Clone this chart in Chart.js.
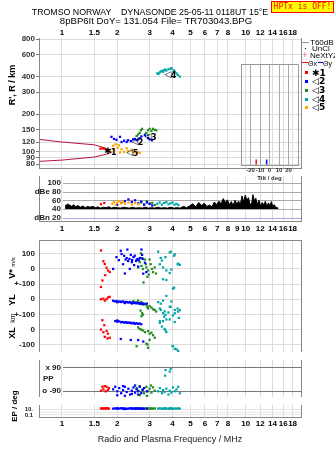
<!DOCTYPE html>
<html>
<head>
<meta charset="utf-8">
<script src="https://cdn.jsdelivr.net/npm/chart.js@4.4.0/dist/chart.umd.min.js"></script>
<style>
  html, body { margin: 0; padding: 0; background: #fff; }
  #wrap { position: relative; width: 335px; height: 451px; overflow: hidden; font-family: "Liberation Sans", Arial, sans-serif; }
  canvas { position: absolute; left: 0; }
  .c { position: absolute; white-space: pre; line-height: 1; transform: translate(-50%, -50%); }
  .l { position: absolute; white-space: pre; line-height: 1; transform: translate(0, -50%); }
  .r { position: absolute; white-space: pre; line-height: 1; transform: translate(-50%, -50%) rotate(-90deg); font-weight: bold; }
  .sq { position: absolute; width: 3px; height: 3px; }
</style>
</head>
<body>
<div id="wrap">
  <canvas id="c1" width="335" height="173" style="top:0"></canvas>
  <canvas id="c2" width="335" height="63" style="top:172px"></canvas>
  <canvas id="c3" width="335" height="120" style="top:236px"></canvas>
  <canvas id="c4" width="335" height="45" style="top:356px"></canvas>
  <canvas id="c5" width="335" height="50" style="top:401px"></canvas>
  <canvas id="c6" width="75" height="124" style="top:58px;left:230px"></canvas>

  <div class="c" style="left:150px;top:12px;font-size:8.8px">TROMSO NORWAY    DYNASONDE 25-05-11 0118UT 15°E</div>
  <div class="c" style="left:156px;top:21px;font-size:9.6px">8pBP6It DoY= 131.054 File= TR703043.BPG</div>
  <div style="position:absolute;left:271px;top:1px;width:61px;height:10px;border:1px solid #f00;background:#ff0;color:#f00;font:8px 'DejaVu Sans Mono',monospace;line-height:10px;text-align:center;white-space:nowrap">HPTx is OFF!</div>

  <div style="position:absolute;left:302px;top:42px;width:7px;height:1px;background:#999"></div>
  <div class="l" style="left:310px;top:42.5px;font-size:8px">T60dB</div>
  <div style="position:absolute;left:305px;top:48px;width:1px;height:1px;background:#000"></div>
  <div class="l" style="left:312px;top:49px;font-size:8px">UnCl</div>
  <div class="c" style="left:305px;top:55px;font-size:9px;color:#e05080">+</div>
  <div class="l" style="left:310px;top:55.5px;font-size:8px">NeXtYZ</div>
  <div style="position:absolute;left:302px;top:62px;width:6px;height:1px;background:#f00"></div>
  <div class="l" style="left:308px;top:62.5px;font-size:7px">Θx</div>
  <div style="position:absolute;left:318px;top:62px;width:5px;height:1px;background:#00f"></div>
  <div class="l" style="left:323px;top:62.5px;font-size:7px">Θy</div>
  <div class="sq" style="left:305px;top:71px;background:#f00"></div>
  <div class="sq" style="left:305px;top:80px;background:#00f"></div>
  <div class="sq" style="left:305px;top:89px;background:#228b22"></div>
  <div class="sq" style="left:305px;top:98px;background:#00a6a6"></div>
  <div class="sq" style="left:305px;top:106px;background:#ffa500"></div>
  <div class="l" style="left:312px;top:72.5px;font:bold 9px 'DejaVu Sans'">✱1</div>
  <div class="l" style="left:312px;top:81px;font:bold 9px 'DejaVu Sans'">◁2</div>
  <div class="l" style="left:312px;top:90px;font:bold 9px 'DejaVu Sans'">◁3</div>
  <div class="l" style="left:312px;top:98.5px;font:bold 9px 'DejaVu Sans'">◁4</div>
  <div class="l" style="left:312px;top:107px;font:bold 9px 'DejaVu Sans'">◁5</div>

  <div class="r" style="left:12px;top:85px;font-size:9px">R', R / km</div>
  <div class="r" style="left:12px;top:268px;font-size:9px">V* <span style="font-size:6px;font-weight:normal">m/s</span></div>
  <div class="r" style="left:12px;top:300px;font-size:9px">YL</div>
  <div class="r" style="left:12px;top:318px;font-size:7px;font-weight:normal">km</div>
  <div class="r" style="left:12px;top:333px;font-size:9px">XL</div>
  <div class="r" style="left:15px;top:406px;font-size:8px">EP / deg</div>
</div>
<script>
// frequency axis (MHz)
const freqTicks = [1, 1.5, 2, 3, 4, 5, 6, 7, 8, 10, 12, 14, 16, 18];
const freqTicksDb = [1, 1.5, 2, 3, 4, 5, 6, 7, 8, 9, 10, 12, 14, 16, 18];
const heightTicks = [80, 90, 100, 120, 150, 200, 300, 400, 600, 800];

// ionogram traces: frequency (MHz) and virtual height (km)
const redF = [1.62, 1.66, 1.70, 1.74, 1.77];
const redH = [106, 107, 106, 104, 103];
const orangeF = [1.86, 1.90, 1.92, 1.96, 2.01, 2.04, 2.07, 2.11, 2.18, 2.25, 2.29, 2.39, 2.44, 2.55, 2.60, 2.65];
const orangeH = [100, 112, 104, 115, 108, 113, 99, 105, 100, 107, 102, 104, 99, 98, 100, 98];
const blueF = [1.86, 1.92, 1.98, 2.07, 2.11, 2.18, 2.25, 2.29, 2.37, 2.44, 2.49, 2.55, 2.60, 2.65, 2.71, 2.83, 2.94, 3.00, 3.09];
const blueH = [132, 127, 125, 132, 120, 123, 120, 124, 122, 126, 127, 124, 126, 129, 133, 136, 129, 126, 124];
const greenF = [2.55, 2.60, 2.65, 2.69, 2.73, 2.83, 2.88, 2.94, 3.00, 3.07, 3.13, 3.20, 3.26, 2.94];
const greenH = [134, 138, 142, 149, 153, 138, 142, 149, 153, 147, 153, 150, 149, 136];
const tealF = [3.30, 3.35, 3.40, 3.45, 3.50, 3.55, 3.60, 3.65, 3.70, 3.80, 3.90, 3.95, 4.05, 4.11, 4.20, 4.27, 4.38];
const tealH = [425, 420, 432, 440, 445, 438, 450, 455, 448, 458, 462, 468, 450, 440, 425, 413, 400];
// model curves
const modelUpF = [0.75, 1.0, 1.5, 1.7, 1.8];
const modelUpH = [126, 120, 114, 108, 104];
const modelLoF = [0.75, 1.0, 1.5, 1.75, 1.86];
const modelLoH = [84, 86, 91, 96, 99];
// trace markers
const markF = [1.78, 2.49, 2.94, 3.77, 2.34];
const markH = [100, 120, 133, 415, 98];
const markSym = ['✱', '◁', '◁', '◁', '◁'];
const markNum = ['1', '2', '3', '4', '5'];

// amplitude panel (dB)
const noiseF = [1.04, 1.07, 1.1, 1.13, 1.16, 1.19, 1.22, 1.26, 1.3, 1.34, 1.38, 1.42, 1.47, 1.52, 1.57, 1.62, 1.68, 1.74, 1.8, 1.86, 1.93, 2.0, 2.08, 2.16, 2.24, 2.33, 2.42, 2.52, 2.62, 2.73, 2.84, 2.96, 3.08, 3.2, 3.33, 3.46, 3.6, 3.75, 3.9, 4.06, 4.22, 4.4, 4.58, 4.76, 4.95, 5.15, 5.35, 5.55, 5.75, 5.95, 6.15, 6.35, 6.55, 6.75, 6.95, 7.15, 7.35, 7.55, 7.75, 7.95, 8.15, 8.35, 8.55, 8.75, 8.95, 9.15, 9.35, 9.55, 9.75, 9.95, 10.15, 10.35, 10.55, 10.75, 10.95, 11.15, 11.35, 11.55, 11.8, 12.05, 12.3, 12.55, 12.8, 13.05, 13.3, 13.55, 13.8, 14.05, 14.3, 14.55, 14.8, 15.05];
const noiseDb = [47, 51, 49, 46, 50, 45, 48, 44, 47, 43, 46, 44, 46, 43, 45, 42, 44, 43, 45, 42, 44, 43, 42, 44, 43, 42, 44, 42, 43, 42, 44, 42, 43, 42, 44, 42, 43, 42, 44, 42, 43, 42, 46, 43, 47, 52, 45, 55, 48, 53, 46, 49, 45, 56, 50, 58, 52, 64, 55, 61, 50, 57, 48, 60, 52, 58, 50, 70, 56, 72, 60, 66, 52, 49, 73, 58, 65, 50, 60, 47, 55, 49, 58, 46, 54, 47, 57, 45, 50, 44, 43, 42];
const redDf = [1.63, 1.70];
const redDb = [51, 54];
const orangeDf = [1.88, 1.92, 1.96, 2.0, 2.05, 2.1, 2.15, 2.2, 2.3, 2.4, 2.5, 2.6];
const orangeDb = [52, 56, 50, 55, 58, 53, 57, 52, 55, 50, 54, 51];
const blueDf = [2.0, 2.1, 2.2, 2.3, 2.4, 2.5, 2.6, 2.7, 2.8, 2.9, 3.0, 3.1];
const blueDb = [50, 54, 58, 62, 56, 60, 53, 57, 50, 55, 52, 48];
const greenDf = [2.7, 2.8, 2.9, 3.0, 3.1, 3.2];
const greenDb = [55, 50, 58, 52, 54, 49];
const tealDf = [3.3, 3.4, 3.5, 3.6, 3.7, 3.8, 3.9, 4.0, 4.1, 4.2, 4.3];
const tealDb = [52, 55, 50, 54, 56, 51, 53, 55, 50, 52, 49];

// V* (m/s)
const redVf = [1.63, 1.68, 1.71, 1.75, 1.78, 1.82, 1.72, 1.66, 1.63];
const redV = [122, 51, 33, 8, -10, -20, -41, -76, -119];
const blueVf = [1.90, 1.98, 2.04, 2.09, 2.11, 2.15, 2.18, 2.22, 2.25, 2.27, 2.29, 2.33, 2.34, 2.37, 2.41, 2.45, 2.47, 2.49, 2.53, 2.58, 2.60, 2.62, 2.66, 2.71, 2.73, 2.75, 2.77, 2.83, 2.88, 2.20, 2.40, 2.55];
const blueV = [0, 78, 58, 120, 99, 31, 87, 62, 72, 128, 52, 66, 0, 93, 58, 78, 25, 87, 52, 66, 16, 58, 72, 128, 93, 66, -31, 41, -21, -30, 45, 60];
const greenVf = [2.60, 2.65, 2.69, 2.71, 2.73, 2.76, 2.83, 2.88, 2.92, 2.94, 2.97, 3.00, 3.04, 3.09, 3.13, 3.20, 2.78, 2.86, 3.25];
const greenV = [10, 45, 103, 20, 72, 0, 62, 10, -52, -10, -37, 62, 31, 0, -21, 10, -89, 31, -30];
const tealVf = [3.34, 3.45, 3.66, 3.91, 4.08, 4.26, 3.41, 3.55, 3.70, 3.55, 3.70, 4.08, 3.86, 4.11, 4.29, 4.38, 3.94, 3.86, 4.02, 3.50];
const tealV = [114, 72, 78, 114, 87, 31, 31, 10, -10, -68, -73, -124, 109, 97, 35, 27, -4, -27, -130, 55];

// YL (km)
const redYf = [1.63, 1.68, 1.71, 1.75, 1.78, 1.82];
const redYL = [0, 4, -9, 0, 12, 16];
const blueYf = [1.90, 1.94, 1.98, 2.02, 2.06, 2.10, 2.14, 2.18, 2.22, 2.26, 2.30, 2.34, 2.38, 2.42, 2.46, 2.50, 2.54, 2.58, 2.62, 2.66, 2.70, 2.75, 2.80, 2.90, 2.00, 2.20, 2.40];
const blueYL = [-10, -14, -12, -16, -15, -18, -14, -20, -17, -19, -22, -18, -24, -21, -25, -23, -27, -24, -28, -26, -30, -27, -32, -29, -20, -25, -28];
const greenYf = [2.45, 2.55, 2.60, 2.65, 2.70, 2.75, 2.83, 2.88, 2.94, 3.00, 3.07, 3.13, 3.20, 3.26, 2.68, 2.73, 2.76, 2.71, 2.92];
const greenYL = [-12, -20, -9, -29, -18, -35, -29, -40, -61, -45, -55, -66, -71, -81, -75, -92, -102, -112, -50];
const tealYf = [3.34, 3.45, 3.55, 3.41, 3.45, 3.55, 3.62, 3.66, 3.80, 3.94, 4.11, 4.26, 3.70, 3.41, 3.90, 3.86, 4.11, 4.29, 4.38, 4.02, 3.86, 4.11, 4.33, 3.70, 3.60];
const tealYL = [-19, -29, -9, -61, -71, -92, -80, -102, -87, -15, -71, -61, -133, -144, -50, -50, -92, -81, -71, -106, -133, -150, -123, 22, -115];

// XL (km)
const redXf = [1.66, 1.70, 1.63, 1.68, 1.75, 1.78, 1.71, 1.77, 1.82];
const redXL = [62, 29, 0, -17, -9, -27, -48, -59, -54];
const blueXf = [1.95, 2.00, 2.05, 2.10, 2.14, 2.18, 2.22, 2.26, 2.30, 2.34, 2.38, 2.42, 2.46, 2.50, 2.55, 2.60, 2.65, 2.70, 2.09, 2.37, 2.60, 2.00, 2.77];
const blueXL = [56, 52, 54, 48, 50, 46, 49, 44, 47, 43, 45, 40, 44, 38, 42, 37, 40, 35, -62, -69, -69, 60, -79];
const greenXf = [2.60, 2.65, 2.76, 2.83, 2.94, 3.00, 3.07, 3.13, 3.20, 3.00, 2.92, 2.55, 2.94, 2.88, 2.70];
const greenXL = [14, 4, -6, -17, -10, -27, -20, -37, -54, -68, -99, -110, -120, -93, 0];
const tealXf = [3.41, 3.55, 3.62, 3.70, 3.66, 4.02, 4.20, 4.00, 4.11, 4.29, 3.50];
const tealXL = [45, 56, 4, -17, -5, -110, -130, -108, -127, -141, 20];

// PP (deg) and EP (deg)
const redPf = [1.63, 1.66, 1.68, 1.71, 1.73, 1.75, 1.78, 1.80];
const redPP = [-90, -60, -80, -55, -95, -60, -85, -70];
const redEP = [18, 22, 15, 20, 17, 24, 19, 16];
const bluePf = [1.90, 1.95, 2.00, 2.05, 2.10, 2.15, 2.20, 2.25, 2.30, 2.35, 2.40, 2.45, 2.50, 2.55, 2.60, 2.65, 2.70, 2.75, 2.80, 2.90, 2.00, 2.20, 2.40, 2.60, 2.15, 2.50];
const bluePP = [-80, -60, -95, -70, -110, -85, -60, -100, -75, -120, -90, -65, -105, -80, -95, -60, -110, -85, -70, -95, -125, -130, -115, -120, -55, -50];
const blueEP = [16, 20, 14, 18, 22, 15, 19, 13, 17, 21, 16, 18, 14, 20, 15, 19, 17, 13, 18, 16, 22, 12, 20, 15, 17, 19];
const greenPf = [2.55, 2.60, 2.65, 2.70, 2.75, 2.80, 2.88, 2.94, 3.00, 3.07, 3.13, 3.20, 2.65, 2.90, 3.05];
const greenPP = [-70, -90, -55, -100, -80, -110, -60, -95, -75, -105, -65, -90, -125, -130, -50];
const greenEP = [18, 15, 20, 16, 19, 14, 17, 21, 15, 18, 16, 20, 17, 14, 19];
const tealPf = [3.34, 3.41, 3.50, 3.55, 3.62, 3.70, 3.80, 3.86, 3.94, 4.02, 4.11, 4.20, 4.29, 4.38, 3.66, 3.86, 3.91, 3.64];
const tealPP = [-95, -70, -110, -85, -100, -75, -120, -90, -105, -65, -95, -80, -60, -110, 69, 58, 79, 26];
const tealEP = [17, 20, 15, 18, 16, 19, 14, 17, 20, 15, 18, 16, 19, 17, 15, 18, 16, 20];

// tilt inset (deg)
const tiltTicks = [-20, -10, 0, 10, 20];
const tiltRed = -14;
const tiltBlue = -3;

const FMIN = 0.75, FMAX = 20;
const RED = '#ff0000', BLUE = '#0000ff', GREEN = '#228b22', TEAL = '#00a6a6', ORANGE = '#ffa500', MAROON = '#b4123c';
const GRID = '#dcdcdc';
const gridFreqs = freqTicks;

Chart.defaults.font.family = '"Liberation Sans", Arial, sans-serif';
Chart.defaults.font.size = 8;
Chart.defaults.color = '#222';
Chart.defaults.animation = false;
Chart.defaults.events = [];
Chart.defaults.plugins.legend.display = false;
Chart.defaults.plugins.tooltip.enabled = false;

const pts = (xs, ys, off) => xs.map((x, i) => ({ x: x, y: ys[i] + (off || 0) }));
const dots = (data, color) => ({ data: data, pointStyle: 'rect', pointRadius: 1.6, backgroundColor: color, borderColor: color, borderWidth: 0, showLine: false });

// keep tick labels from pushing the plot area around
function noPad(s) { s.paddingTop = 0; s.paddingBottom = 0; s.paddingLeft = 0; s.paddingRight = 0; }

function freqAxis(pos, o) {
  o = o || {};
  const list = o.ticks || freqTicks;
  return {
    type: 'logarithmic', position: pos, min: FMIN, max: FMAX,
    afterBuildTicks: s => { s.ticks = list.map(v => ({ value: v })); },
    afterFit: s => { s.height = o.height || 0; noPad(s); },
    grid: { color: c => (c.tick && gridFreqs.includes(c.tick.value)) ? GRID : 'rgba(0,0,0,0)', drawTicks: false },
    border: { display: false },
    ticks: { display: !!o.labels, autoSkip: false, maxRotation: 0, padding: o.pad || 0, color: '#000', font: { size: 8, weight: 'bold' }, callback: v => String(v) },
    title: o.title ? { display: true, text: o.title, color: '#222', font: { size: 9 }, padding: { top: 0, bottom: 6 } } : { display: false }
  };
}

function leftAxis(base) {
  return Object.assign({
    afterFit: s => { s.width = 39; noPad(s); },
    border: { display: false },
  }, base);
}

// box lines around a plot area
const frame = {
  id: 'frame',
  afterDatasetsDraw(chart, args, o) {
    if (!o || !o.sides) return;
    const a = chart.chartArea, ctx = chart.ctx;
    const L = Math.floor(a.left) + 0.5, R = Math.floor(a.right) + 0.5, T = Math.floor(a.top) + 0.5, B = Math.floor(a.bottom) - 0.5;
    ctx.save();
    ctx.strokeStyle = o.color || '#888';
    ctx.lineWidth = 1;
    ctx.beginPath();
    if (o.sides.includes('l')) { ctx.moveTo(L, a.top); ctx.lineTo(L, a.bottom); }
    if (o.sides.includes('r')) { ctx.moveTo(R, a.top); ctx.lineTo(R, a.bottom); }
    if (o.sides.includes('t')) { ctx.moveTo(a.left, T); ctx.lineTo(a.right, T); }
    if (o.sides.includes('b')) { ctx.moveTo(a.left, B); ctx.lineTo(a.right, B); }
    ctx.stroke();
    ctx.restore();
  }
};

// labels written inside the plot, at the 1 MHz line, with their grid lines
const innerTicks = {
  id: 'innerTicks',
  beforeDatasetsDraw(chart, args, o) {
    if (!o || !o.items) return;
    const ctx = chart.ctx, ys = chart.scales.y, x0 = chart.scales.x.getPixelForValue(1);
    ctx.save();
    ctx.lineWidth = 1;
    o.items.forEach(it => {
      if (!it.line) return;
      const y = Math.round(ys.getPixelForValue(it.v)) + 0.5;
      ctx.strokeStyle = it.line;
      ctx.beginPath(); ctx.moveTo(x0 + 1, y); ctx.lineTo(chart.chartArea.right, y); ctx.stroke();
    });
    ctx.restore();
  },
  afterDatasetsDraw(chart, args, o) {
    if (!o || !o.items) return;
    const ctx = chart.ctx, ys = chart.scales.y, x0 = chart.scales.x.getPixelForValue(1);
    ctx.save();
    ctx.font = 'bold 8px "Liberation Sans", Arial, sans-serif';
    ctx.fillStyle = '#222';
    ctx.textBaseline = 'middle';
    o.items.forEach(it => {
      const y = ys.getPixelForValue(it.v);
      if (it.left) { ctx.textAlign = 'left'; ctx.fillText(it.label, chart.chartArea.left + 4, y); }
      else { ctx.textAlign = 'right'; ctx.fillText(it.label, x0 - 1, y); }
    });
    ctx.restore();
  }
};

// trace identification symbols on the ionogram
const markers = {
  id: 'markers',
  afterDatasetsDraw(chart, args, o) {
    if (!o || !o.show) return;
    const ctx = chart.ctx, xs = chart.scales.x, ys = chart.scales.y;
    ctx.save();
    ctx.fillStyle = '#000';
    ctx.textBaseline = 'middle';
    markF.forEach((f, i) => {
      const x = xs.getPixelForValue(f), y = ys.getPixelForValue(markH[i]);
      ctx.font = 'bold 9px "DejaVu Sans", sans-serif';
      ctx.textAlign = 'center';
      ctx.fillText(markSym[i], x, y);
      ctx.textAlign = 'left';
      ctx.font = 'bold 8px "DejaVu Sans", sans-serif';
      ctx.fillText(markNum[i], x + 3, y + 1);
    });
    ctx.restore();
  }
};

Chart.register(frame, innerTicks, markers);

const common = { responsive: false, devicePixelRatio: 1 };

// ionogram
new Chart(document.getElementById('c1'), {
  type: 'scatter',
  data: { datasets: [
    { data: pts(modelUpF, modelUpH), showLine: true, borderColor: MAROON, borderWidth: 1, pointRadius: 0 },
    { data: pts(modelLoF, modelLoH), showLine: true, borderColor: MAROON, borderWidth: 1, pointRadius: 0 },
    dots(pts(orangeF, orangeH), ORANGE),
    dots(pts(redF, redH), RED),
    dots(pts(blueF, blueH), BLUE),
    dots(pts(greenF, greenH), GREEN),
    dots(pts(tealF, tealH), TEAL)
  ] },
  options: Object.assign({}, common, {
    layout: { padding: { left: 0, right: 34, top: 0, bottom: 1 } },
    scales: {
      x: freqAxis('top', { labels: true, height: 38, pad: 0 }),
      y: leftAxis({
        type: 'logarithmic', min: 73, max: 815,
        afterBuildTicks: s => { s.ticks = heightTicks.map(v => ({ value: v })); },
        grid: { color: GRID, tickColor: '#777', tickLength: 3 },
        ticks: { autoSkip: false, padding: 1, color: '#333', font: { size: 8, weight: 'bold' }, callback: v => String(v) }
      })
    },
    plugins: { frame: { sides: 'lrb' }, markers: { show: true } }
  })
});

// amplitude
new Chart(document.getElementById('c2'), {
  type: 'scatter',
  data: { datasets: [
    { data: pts(noiseF, noiseDb), showLine: true, borderColor: '#000', borderWidth: 1, pointRadius: 0, fill: { value: 40 }, backgroundColor: '#000' },
    dots(pts(redDf, redDb), RED),
    dots(pts(orangeDf, orangeDb), ORANGE),
    dots(pts(blueDf, blueDb), BLUE),
    dots(pts(greenDf, greenDb), GREEN),
    dots(pts(tealDf, tealDb), TEAL)
  ] },
  options: Object.assign({}, common, {
    layout: { padding: { left: 0, right: 34, top: 0, bottom: 0 } },
    scales: {
      x: freqAxis('bottom', { labels: true, height: 13, pad: 2, ticks: freqTicksDb }),
      y: leftAxis({ type: 'linear', min: 10, max: 116, grid: { display: false }, ticks: { display: false } })
    },
    plugins: {
      frame: { sides: 'lrb' },
      innerTicks: { items: [
        { v: 100, label: '100', line: '#aaa' },
        { v: 80, label: 'dBe 80', line: '#aaa' },
        { v: 60, label: '60', line: '#aaa' },
        { v: 40, label: '40', line: '#aaa' },
        { v: 20, label: 'dBn 20', line: '#a8a8e8' }
      ] }
    }
  })
});

// V*, YL, XL share one axis, each offset to its own band
const vTicks = [300, 200, 100, 0, -100, -200, -300];
const vLabels = ['100', '0', '+-100', '0', '+-100', '0', '-100'];
new Chart(document.getElementById('c3'), {
  type: 'scatter',
  data: { datasets: [
    dots(pts(redVf, redV, 200), RED), dots(pts(blueVf, blueV, 200), BLUE), dots(pts(greenVf, greenV, 200), GREEN), dots(pts(tealVf, tealV, 200), TEAL),
    dots(pts(redYf, redYL), RED), dots(pts(blueYf, blueYL), BLUE), dots(pts(greenYf, greenYL), GREEN), dots(pts(tealYf, tealYL), TEAL),
    dots(pts(redXf, redXL, -200), RED), dots(pts(blueXf, blueXL, -200), BLUE), dots(pts(greenXf, greenXL, -200), GREEN), dots(pts(tealXf, tealXL, -200), TEAL)
  ] },
  options: Object.assign({}, common, {
    layout: { padding: { left: 0, right: 34, top: 1, bottom: 0 } },
    scales: {
      x: freqAxis('bottom', { height: 0 }),
      y: leftAxis({
        type: 'linear', min: -348, max: 391,
        afterBuildTicks: s => { s.ticks = vTicks.map(v => ({ value: v })); },
        grid: { color: GRID, drawTicks: false },
        ticks: { autoSkip: false, padding: 4, color: '#222', font: { size: 8, weight: 'bold' }, callback: (v, i) => vLabels[i] }
      })
    },
    plugins: { frame: { sides: 'lrt' } }
  })
});

// PP
new Chart(document.getElementById('c4'), {
  type: 'scatter',
  data: { datasets: [
    dots(pts(redPf, redPP), RED), dots(pts(bluePf, bluePP), BLUE), dots(pts(greenPf, greenPP), GREEN), dots(pts(tealPf, tealPP), TEAL)
  ] },
  options: Object.assign({}, common, {
    layout: { padding: { left: 0, right: 34, top: 0, bottom: 0 } },
    scales: {
      x: freqAxis('bottom', { height: 0 }),
      y: leftAxis({ type: 'linear', min: -139, max: 147, grid: { display: false }, ticks: { display: false } })
    },
    plugins: {
      frame: { sides: 'lr' },
      innerTicks: { items: [
        { v: 90, label: 'x 90', line: '#777' },
        { v: 0, label: 'PP', left: true },
        { v: -90, label: 'o -90', line: '#777' }
      ] }
    }
  })
});

// EP
const epTicks = [10, 1, 0.1];
const epLabels = ['10.', '', '0.1'];
new Chart(document.getElementById('c5'), {
  type: 'scatter',
  data: { datasets: [
    dots(pts(redPf, redEP), RED), dots(pts(bluePf, blueEP), BLUE), dots(pts(greenPf, greenEP), GREEN), dots(pts(tealPf, tealEP), TEAL)
  ] },
  options: Object.assign({}, common, {
    layout: { padding: { left: 0, right: 34, top: 0, bottom: 0 } },
    scales: {
      x: freqAxis('bottom', { labels: true, height: 33, pad: 1, title: 'Radio and Plasma Frequency / MHz' }),
      y: leftAxis({
        type: 'logarithmic', min: 0.0086, max: 293,
        afterBuildTicks: s => { s.ticks = epTicks.map(v => ({ value: v })); },
        grid: { color: '#e4e4e4', drawTicks: false },
        ticks: { autoSkip: false, padding: 6, color: '#222', font: { size: 6, weight: 'bold', lineHeight: 1 }, callback: (v, i) => epLabels[i] }
      })
    },
    plugins: { frame: { sides: 'lrb' } }
  })
});

// tilt inset
new Chart(document.getElementById('c6'), {
  type: 'scatter',
  data: { datasets: [
    { data: [{ x: tiltRed, y: 4 }], pointStyle: 'line', rotation: 90, pointRadius: 2.5, borderColor: RED, borderWidth: 1.5 },
    { data: [{ x: tiltBlue, y: 4 }], pointStyle: 'line', rotation: 90, pointRadius: 2.5, borderColor: BLUE, borderWidth: 1.5 }
  ] },
  options: Object.assign({}, common, {
    layout: { padding: { left: 11, right: 7, top: 6.5, bottom: 0 } },
    scales: {
      x: {
        type: 'linear', min: -30, max: 30,
        afterBuildTicks: s => { s.ticks = tiltTicks.map(v => ({ value: v })); },
        afterFit: s => { s.height = 16; noPad(s); },
        grid: { color: '#aaa', drawTicks: false },
        border: { display: false },
        ticks: { autoSkip: false, maxRotation: 0, padding: 1, color: '#333', font: { size: 6, weight: 'bold' } },
        title: { display: true, text: 'Tilt / deg', color: '#333', font: { size: 6, weight: 'bold' }, padding: 0 }
      },
      y: { display: false, min: 0, max: 100 }
    },
    plugins: { frame: { sides: 'lrtb', color: '#999' } }
  })
});
</script>
</body>
</html>
